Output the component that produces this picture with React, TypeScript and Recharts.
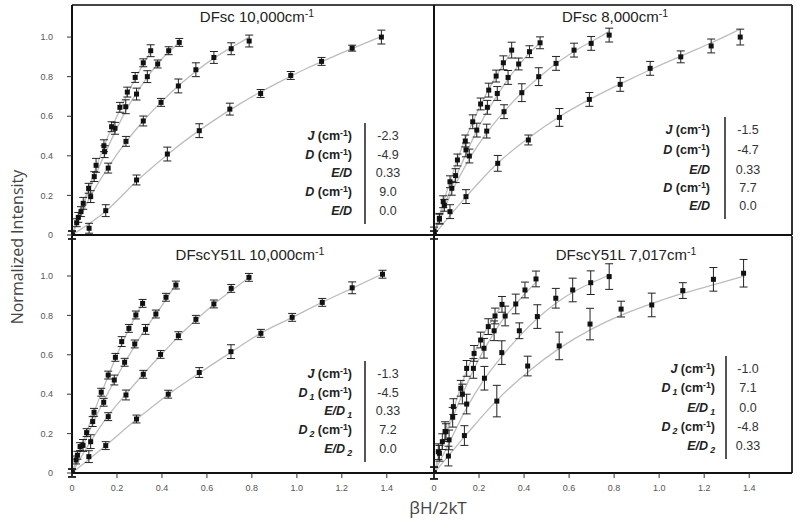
import React from 'react';
import { ComposedChart, Line, Scatter, ErrorBar, XAxis, YAxis, ReferenceLine } from 'recharts';

type Pt = [number, number, number];

// tick values shared by all panels
const xTicks = [0, 0.2, 0.4, 0.6, 0.8, 1.0, 1.2, 1.4];
const yTicks = [0, 0.2, 0.4, 0.6, 0.8, 1.0];

// DFsc 10,000 cm-1  [x, y, err]
const tlA: Pt[] = [[0, 0, 0.02], [0.021, 0.062, 0.02], [0.04, 0.118, 0.025], [0.074, 0.236, 0.025], [0.107, 0.352, 0.035], [0.142, 0.451, 0.03], [0.176, 0.547, 0.025], [0.213, 0.645, 0.025], [0.246, 0.722, 0.025], [0.281, 0.796, 0.025], [0.317, 0.87, 0.02], [0.35, 0.931, 0.03]];
const tlB: Pt[] = [[0, 0, 0.02], [0.028, 0.089, 0.025], [0.05, 0.16, 0.03], [0.099, 0.295, 0.025], [0.145, 0.421, 0.03], [0.191, 0.539, 0.03], [0.239, 0.648, 0.035], [0.287, 0.712, 0.03], [0.335, 0.8, 0.03], [0.381, 0.864, 0.02], [0.43, 0.931, 0.02], [0.477, 0.973, 0.02]];
const tlC: Pt[] = [[0, 0, 0.02], [0.083, 0.194, 0.03], [0.161, 0.338, 0.025], [0.24, 0.473, 0.025], [0.317, 0.576, 0.025], [0.396, 0.67, 0.02], [0.473, 0.753, 0.035], [0.551, 0.835, 0.035], [0.631, 0.897, 0.03], [0.708, 0.941, 0.03], [0.788, 0.98, 0.03]];
const tlD: Pt[] = [[0, 0, 0.02], [0.076, 0.034, 0.025], [0.15, 0.123, 0.03], [0.287, 0.278, 0.025], [0.424, 0.409, 0.035], [0.566, 0.527, 0.035], [0.702, 0.636, 0.03], [0.839, 0.715, 0.02], [0.973, 0.806, 0.02], [1.11, 0.877, 0.02], [1.246, 0.944, 0.015], [1.376, 1.0, 0.035]];
const tlAFit = [[0, 0], [0.05, 0.16], [0.1, 0.32], [0.15, 0.47], [0.2, 0.6], [0.25, 0.72], [0.3, 0.83], [0.35, 0.925]];
const tlBFit = [[0, 0], [0.05, 0.15], [0.1, 0.29], [0.15, 0.42], [0.2, 0.54], [0.25, 0.65], [0.3, 0.74], [0.35, 0.82], [0.4, 0.89], [0.48, 0.975]];
const tlCFit = [[0, 0], [0.08, 0.19], [0.16, 0.34], [0.24, 0.47], [0.32, 0.58], [0.4, 0.675], [0.48, 0.76], [0.56, 0.835], [0.64, 0.9], [0.72, 0.955], [0.79, 1.0]];
const tlDFit = [[0, 0], [0.15, 0.12], [0.3, 0.285], [0.45, 0.43], [0.6, 0.555], [0.75, 0.665], [0.9, 0.76], [1.05, 0.845], [1.2, 0.92], [1.38, 1.005]];

// DFsc 8,000 cm-1
const trA: Pt[] = [[0, 0.02, 0.02], [0.024, 0.084, 0.025], [0.041, 0.168, 0.03], [0.071, 0.269, 0.03], [0.104, 0.379, 0.03], [0.139, 0.475, 0.03], [0.172, 0.572, 0.035], [0.207, 0.662, 0.03], [0.243, 0.732, 0.035], [0.276, 0.803, 0.03], [0.308, 0.87, 0.035], [0.345, 0.934, 0.04]];
const trB: Pt[] = [[0, 0, 0.02], [0.024, 0.08, 0.025], [0.046, 0.15, 0.03], [0.096, 0.3, 0.035], [0.142, 0.43, 0.035], [0.19, 0.53, 0.035], [0.237, 0.645, 0.035], [0.281, 0.715, 0.035], [0.329, 0.796, 0.035], [0.376, 0.864, 0.03], [0.424, 0.926, 0.03], [0.471, 0.971, 0.03]];
const trC: Pt[] = [[0, 0, 0.02], [0.079, 0.236, 0.035], [0.157, 0.399, 0.035], [0.234, 0.525, 0.035], [0.311, 0.623, 0.035], [0.39, 0.719, 0.045], [0.465, 0.8, 0.045], [0.542, 0.867, 0.035], [0.622, 0.934, 0.035], [0.698, 0.968, 0.035], [0.778, 1.01, 0.035]];
const trD: Pt[] = [[0, 0, 0.02], [0.071, 0.118, 0.035], [0.142, 0.194, 0.035], [0.283, 0.362, 0.04], [0.419, 0.48, 0.025], [0.557, 0.594, 0.045], [0.69, 0.685, 0.035], [0.827, 0.761, 0.035], [0.96, 0.842, 0.035], [1.096, 0.9, 0.03], [1.231, 0.955, 0.035], [1.36, 1.0, 0.04]];
const trAFit = [[0, 0], [0.04, 0.16], [0.08, 0.3], [0.12, 0.43], [0.16, 0.54], [0.2, 0.64], [0.24, 0.73], [0.28, 0.81], [0.345, 0.925]];
const trBFit = [[0, 0], [0.05, 0.16], [0.1, 0.3], [0.15, 0.43], [0.2, 0.55], [0.25, 0.65], [0.3, 0.74], [0.35, 0.82], [0.4, 0.89], [0.47, 0.97]];
const trCFit = [[0, 0], [0.08, 0.22], [0.16, 0.39], [0.24, 0.525], [0.32, 0.635], [0.4, 0.73], [0.48, 0.81], [0.56, 0.88], [0.64, 0.94], [0.72, 0.99], [0.78, 1.03]];
const trDFit = [[0, 0], [0.14, 0.19], [0.28, 0.36], [0.42, 0.49], [0.56, 0.6], [0.7, 0.69], [0.84, 0.77], [0.98, 0.845], [1.12, 0.915], [1.24, 0.975], [1.36, 1.04]];

// DFscY51L 10,000 cm-1
const blA: Pt[] = [[0, 0, 0.02], [0.018, 0.066, 0.02], [0.036, 0.134, 0.02], [0.065, 0.205, 0.02], [0.098, 0.308, 0.02], [0.13, 0.41, 0.02], [0.161, 0.497, 0.02], [0.193, 0.587, 0.02], [0.221, 0.667, 0.025], [0.253, 0.734, 0.02], [0.284, 0.802, 0.02], [0.314, 0.861, 0.02]];
const blB: Pt[] = [[0, 0, 0.02], [0.024, 0.09, 0.02], [0.049, 0.14, 0.03], [0.092, 0.261, 0.025], [0.141, 0.359, 0.02], [0.188, 0.472, 0.025], [0.234, 0.562, 0.02], [0.279, 0.655, 0.02], [0.327, 0.729, 0.025], [0.373, 0.807, 0.02], [0.418, 0.892, 0.02], [0.462, 0.954, 0.02]];
const blC: Pt[] = [[0, 0, 0.02], [0.083, 0.159, 0.035], [0.161, 0.286, 0.02], [0.24, 0.396, 0.025], [0.317, 0.501, 0.02], [0.394, 0.602, 0.02], [0.473, 0.697, 0.02], [0.551, 0.78, 0.02], [0.631, 0.858, 0.02], [0.708, 0.937, 0.02], [0.787, 0.993, 0.02]];
const blD: Pt[] = [[0, 0, 0.02], [0.075, 0.083, 0.03], [0.15, 0.139, 0.02], [0.287, 0.274, 0.02], [0.428, 0.4, 0.02], [0.566, 0.51, 0.025], [0.707, 0.616, 0.035], [0.84, 0.709, 0.02], [0.979, 0.79, 0.02], [1.113, 0.866, 0.02], [1.246, 0.94, 0.03], [1.381, 1.009, 0.02]];
const blAFit = [[0, 0], [0.04, 0.13], [0.08, 0.255], [0.12, 0.375], [0.16, 0.49], [0.2, 0.6], [0.24, 0.7], [0.28, 0.79], [0.315, 0.865]];
const blBFit = [[0, 0], [0.05, 0.14], [0.1, 0.27], [0.15, 0.385], [0.2, 0.49], [0.25, 0.59], [0.3, 0.685], [0.35, 0.77], [0.4, 0.85], [0.46, 0.955]];
const blCFit = [[0, 0], [0.08, 0.155], [0.16, 0.29], [0.24, 0.4], [0.32, 0.505], [0.4, 0.605], [0.48, 0.7], [0.56, 0.785], [0.64, 0.865], [0.72, 0.935], [0.79, 0.995]];
const blDFit = [[0, 0], [0.15, 0.14], [0.29, 0.275], [0.43, 0.4], [0.57, 0.51], [0.71, 0.615], [0.84, 0.71], [0.98, 0.79], [1.11, 0.865], [1.25, 0.94], [1.38, 1.01]];

// DFscY51L 7,017 cm-1
const brA: Pt[] = [[0, 0, 0.03], [0.019, 0.108, 0.04], [0.037, 0.159, 0.04], [0.053, 0.21, 0.04], [0.086, 0.337, 0.04], [0.119, 0.43, 0.04], [0.145, 0.531, 0.04], [0.178, 0.607, 0.04], [0.207, 0.675, 0.04], [0.241, 0.743, 0.04], [0.271, 0.797, 0.04], [0.302, 0.856, 0.04]];
const brB: Pt[] = [[0, 0, 0.03], [0.024, 0.1, 0.04], [0.049, 0.21, 0.05], [0.083, 0.283, 0.05], [0.126, 0.401, 0.05], [0.175, 0.531, 0.05], [0.222, 0.633, 0.05], [0.267, 0.722, 0.05], [0.316, 0.797, 0.05], [0.363, 0.858, 0.05], [0.404, 0.929, 0.04], [0.453, 0.985, 0.04]];
const brC: Pt[] = [[0, 0, 0.03], [0.067, 0.168, 0.05], [0.145, 0.35, 0.05], [0.224, 0.481, 0.06], [0.301, 0.611, 0.06], [0.379, 0.722, 0.04], [0.459, 0.794, 0.06], [0.541, 0.887, 0.05], [0.616, 0.929, 0.06], [0.696, 0.966, 0.06], [0.778, 0.997, 0.065]];
const brD: Pt[] = [[0, 0, 0.03], [0.064, 0.086, 0.05], [0.135, 0.19, 0.05], [0.279, 0.365, 0.08], [0.416, 0.543, 0.05], [0.556, 0.645, 0.07], [0.693, 0.756, 0.08], [0.831, 0.832, 0.04], [0.967, 0.853, 0.06], [1.105, 0.926, 0.04], [1.241, 0.983, 0.06], [1.375, 1.014, 0.07]];
const brAFit = [[0, 0], [0.04, 0.15], [0.08, 0.3], [0.12, 0.44], [0.16, 0.56], [0.2, 0.66], [0.24, 0.745], [0.3, 0.85]];
const brBFit = [[0, 0], [0.05, 0.18], [0.1, 0.33], [0.15, 0.46], [0.2, 0.58], [0.25, 0.68], [0.3, 0.77], [0.35, 0.84], [0.4, 0.905], [0.455, 0.97]];
const brCFit = [[0, 0], [0.07, 0.16], [0.145, 0.33], [0.22, 0.47], [0.3, 0.59], [0.38, 0.695], [0.46, 0.785], [0.54, 0.86], [0.62, 0.92], [0.7, 0.965], [0.78, 1.005]];
const brDFit = [[0, 0], [0.14, 0.19], [0.28, 0.37], [0.42, 0.515], [0.56, 0.635], [0.7, 0.73], [0.84, 0.805], [0.98, 0.865], [1.1, 0.91], [1.24, 0.955], [1.38, 1.0]];

// fitted parameter values shown in each panel
const tlValues = ['-2.3', '-4.9', '0.33', '9.0', '0.0'];
const trValues = ['-1.5', '-4.7', '0.33', '7.7', '0.0'];
const blValues = ['-1.3', '-4.5', '0.33', '7.2', '0.0'];
const brValues = ['-1.0', '7.1', '0.0', '-4.8', '0.33'];

// raised / lowered text without changing the line box
const Sup: React.FC<{ children: React.ReactNode }> = ({ children }) => (
  <span style={{ position: 'relative', top: '-0.45em', fontSize: '70%', lineHeight: 0 }}>{children}</span>
);
const Sub: React.FC<{ children: React.ReactNode }> = ({ children }) => (
  <span style={{ position: 'relative', top: '0.3em', fontSize: '70%', lineHeight: 0, fontStyle: 'italic', marginLeft: 2 }}>{children}</span>
);

const cm = <span style={{ fontStyle: 'normal' }}> (cm<Sup>-1</Sup>)</span>;
const topLabels = [
  <><i>J</i>{cm}</>,
  <><i>D</i>{cm}</>,
  <i>E/D</i>,
  <><i>D</i>{cm}</>,
  <i>E/D</i>,
];
const bottomLabels = [
  <><i>J</i>{cm}</>,
  <><i>D</i><Sub>1</Sub>{cm}</>,
  <><i>E/D</i><Sub>1</Sub></>,
  <><i>D</i><Sub>2</Sub>{cm}</>,
  <><i>E/D</i><Sub>2</Sub></>,
];

const tickFont = { fontSize: 9, fill: '#555', fontFamily: "'Liberation Sans Narrow', 'Liberation Sans', Arial, sans-serif" };
const fmt = (v: number) => (v === 0 ? '0' : v.toFixed(1));
const toPts = (a: Pt[]) => a.map(([x, y, e]) => ({ x, y, e }));
const toFit = (a: number[][]) => a.map(([x, y]) => ({ x, y }));

const Square = (p: any) => <rect x={p.cx - 2.5} y={p.cy - 2.5} width={5} height={5} fill="#111" />;

const YW = 45;
const XH = 30;
const MT = 3;
const MR = 6;

interface PanelProps {
  left: number;
  top: number;
  w: number;
  h: number;
  xMax: number;
  yMax: number;
  xLabels: boolean;
  yLabels: boolean;
  rightBorder: boolean;
  topBorder: boolean;
  series: Pt[][];
  fits: number[][][];
}

const Panel: React.FC<PanelProps> = ({ left, top, w, h, xMax, yMax, xLabels, yLabels, rightBorder, topBorder, series, fits }) => (
  <div style={{ position: 'absolute', left: left - YW, top: top - MT }}>
    <ComposedChart width={w + YW + MR} height={h + MT + XH} margin={{ top: MT, right: MR, left: 0, bottom: 0 }}>
      <XAxis
        type="number"
        dataKey="x"
        domain={[0, xMax]}
        ticks={xTicks}
        tickFormatter={fmt}
        allowDataOverflow
        height={XH}
        axisLine={{ stroke: '#111', strokeWidth: 2 }}
        tickLine={{ stroke: '#333' }}
        tickSize={5}
        tickMargin={7}
        tick={xLabels ? tickFont : false}
      />
      <YAxis
        type="number"
        dataKey="y"
        domain={[0, yMax]}
        ticks={yTicks}
        tickFormatter={fmt}
        allowDataOverflow
        width={YW}
        axisLine={{ stroke: '#111', strokeWidth: 2 }}
        tickLine={{ stroke: '#333' }}
        tickSize={5}
        tickMargin={14}
        tick={yLabels ? tickFont : false}
      />
      {topBorder && <ReferenceLine y={yMax} stroke="#444" strokeWidth={2} ifOverflow="visible" />}
      {rightBorder && <ReferenceLine x={xMax} stroke="#333" strokeWidth={2} ifOverflow="visible" />}
      {fits.map((f, i) => (
        <Line
          key={`fit-${i}`}
          data={toFit(f)}
          dataKey="y"
          type="monotone"
          stroke="#bdbdbd"
          strokeWidth={1.3}
          dot={false}
          isAnimationActive={false}
        />
      ))}
      {series.map((s, i) => (
        <Scatter key={`pts-${i}`} data={toPts(s)} dataKey="y" shape={Square} isAnimationActive={false}>
          <ErrorBar dataKey="e" direction="y" width={4} stroke="#222" strokeWidth={1} />
        </Scatter>
      ))}
    </ComposedChart>
  </div>
);

interface TableProps {
  labels: React.ReactNode[];
  values: string[];
  labelRight: number;
  barX: number;
  valueX: number;
  rowY: number[];
}

const ParamTable: React.FC<TableProps> = ({ labels, values, labelRight, barX, valueX, rowY }) => (
  <>
    {labels.map((l, i) => (
      <div
        key={`l-${i}`}
        style={{ position: 'absolute', right: 800 - labelRight, top: rowY[i] - 8, height: 16, lineHeight: '16px', fontWeight: 'bold', color: '#222', whiteSpace: 'nowrap' }}
      >
        {l}
      </div>
    ))}
    {values.map((v, i) => (
      <div
        key={`v-${i}`}
        style={{ position: 'absolute', left: valueX - 25, width: 50, textAlign: 'center', top: rowY[i] - 8, height: 16, lineHeight: '16px', color: '#333' }}
      >
        {v}
      </div>
    ))}
    <div style={{ position: 'absolute', left: barX - 1, width: 2, top: rowY[0] - 13, height: rowY[4] - rowY[0] + 26, background: '#555' }} />
  </>
);

const Title: React.FC<{ cx: number; cy: number; text: string }> = ({ cx, cy, text }) => (
  <div style={{ position: 'absolute', left: cx - 100, width: 200, top: cy - 9, height: 18, lineHeight: '18px', textAlign: 'center', fontSize: 15, color: '#222', whiteSpace: 'nowrap' }}>
    {text}cm<Sup>-1</Sup>
  </div>
);

export default function App() {
  return (
    <div style={{ position: 'absolute', left: 0, top: 0, width: 800, height: 529, background: '#fff', fontFamily: "'Liberation Sans', Arial, sans-serif", fontSize: 12.5 }}>
      <Panel left={72} top={5} w={362} h={230} xMax={1.61} yMax={1.162} xLabels={false} yLabels rightBorder={false} topBorder
        series={[tlA, tlB, tlC, tlD]} fits={[tlAFit, tlBFit, tlCFit, tlDFit]} />
      <Panel left={434} top={5} w={358} h={230} xMax={1.59} yMax={1.162} xLabels={false} yLabels={false} rightBorder topBorder
        series={[trA, trB, trC, trD]} fits={[trAFit, trBFit, trCFit, trDFit]} />
      <Panel left={72} top={236} w={362} h={237} xMax={1.61} yMax={1.203} xLabels yLabels rightBorder={false} topBorder={false}
        series={[blA, blB, blC, blD]} fits={[blAFit, blBFit, blCFit, blDFit]} />
      <Panel left={434} top={236} w={358} h={237} xMax={1.59} yMax={1.203} xLabels yLabels={false} rightBorder topBorder={false}
        series={[brA, brB, brC, brD]} fits={[brAFit, brBFit, brCFit, brDFit]} />

      <Title cx={257} cy={17} text="DFsc 10,000" />
      <Title cx={615} cy={17} text="DFsc 8,000" />
      <Title cx={250} cy={255} text="DFscY51L 10,000" />
      <Title cx={626} cy={255} text="DFscY51L 7,017" />

      <ParamTable labels={topLabels} values={tlValues} labelRight={352} barX={365} valueX={388} rowY={[136, 155, 173, 192, 211]} />
      <ParamTable labels={topLabels} values={trValues} labelRight={710} barX={725} valueX={748} rowY={[130, 150, 170, 188, 206]} />
      <ParamTable labels={bottomLabels} values={blValues} labelRight={352} barX={365} valueX={388} rowY={[374, 393, 411, 430, 449]} />
      <ParamTable labels={bottomLabels} values={brValues} labelRight={715} barX={726} valueX={748} rowY={[369, 388, 408, 427, 446]} />

      <div style={{ position: 'absolute', left: 17 - 100, top: 247 - 11, width: 200, lineHeight: '22px', textAlign: 'center', transform: 'rotate(-90deg)', fontFamily: "'Open Sans', sans-serif", fontSize: 16, color: '#444' }}>
        Normalized Intensity
      </div>
      <div style={{ position: 'absolute', left: 438 - 60, top: 508 - 11, width: 120, lineHeight: '22px', textAlign: 'center', fontFamily: "'Open Sans', sans-serif", fontSize: 17, color: '#444' }}>
        βH/2kT
      </div>
    </div>
  );
}
